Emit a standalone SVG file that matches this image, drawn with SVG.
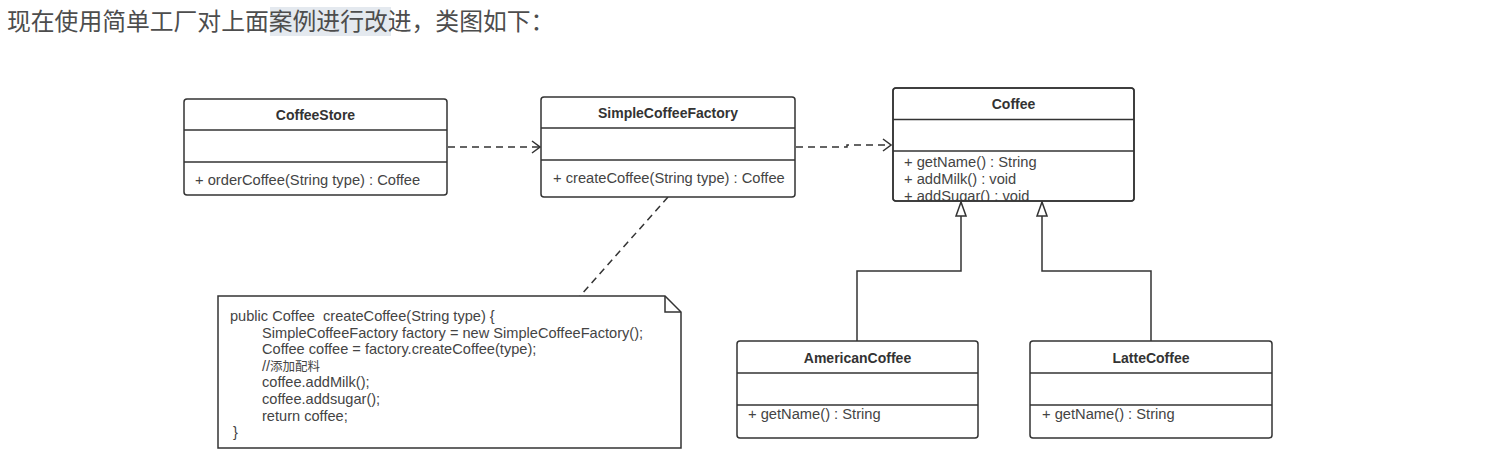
<svg xmlns="http://www.w3.org/2000/svg" width="1498" height="455" viewBox="0 0 1498 455">
<style>
.box{fill:#fff;stroke:#333;stroke-width:1.5}
.div{stroke:#333;stroke-width:1.5;fill:none}
.name{font-family:"Liberation Sans","Noto Sans",sans-serif;font-size:14px;font-weight:bold;fill:#333;text-anchor:middle}
.m{font-family:"Liberation Sans","Noto Sans",sans-serif;font-size:14.7px;fill:#444}
.note{font-family:"Liberation Sans","Noto Sans","Noto Sans CJK SC",sans-serif;font-size:14.6px;fill:#444;white-space:pre}
.cjk{font-family:"Noto Sans CJK SC",sans-serif;font-size:12.5px}
.dash{stroke:#333;stroke-width:1.5;fill:none;stroke-dasharray:7 5}
.solid{stroke:#333;stroke-width:1.5;fill:none}
.title{font-family:"Noto Sans CJK SC","Noto Sans",sans-serif;font-size:23.8px;fill:#4d4d4d}
</style>
<defs>
<marker id="open" viewBox="0 0 10 14" refX="9" refY="7" markerWidth="10" markerHeight="14" markerUnits="userSpaceOnUse" orient="auto">
<path d="M1,1 L9,7 L1,13" fill="none" stroke="#333" stroke-width="1.5"/>
</marker>
<marker id="tri" viewBox="0 0 16 12" refX="15" refY="6" markerWidth="16" markerHeight="12" markerUnits="userSpaceOnUse" orient="auto">
<path d="M1,1 L15,6 L1,11 Z" fill="#fff" stroke="#333" stroke-width="1.5"/>
</marker>
<clipPath id="coffeeClip"><rect x="893" y="152" width="241" height="49"/></clipPath>
</defs>
<rect width="1498" height="455" fill="#fff"/>
<g id="title">
<rect x="270" y="7" width="121" height="29" fill="#e4e9ef"/>
<text class="title" x="7" y="30">现在使用简单工厂对上面案例进行改进，类图如下：</text>
</g>
<g id="connectors">
<line class="dash" x1="448" y1="147" x2="540" y2="147" marker-end="url(#open)"/>
<polyline class="dash" points="796,147 847,147 847,145 891,145" marker-end="url(#open)"/>
<line class="dash" x1="668" y1="197" x2="580" y2="296"/>
<polyline class="solid" points="857,341 857,271 961,271 961,202" marker-end="url(#tri)"/>
<polyline class="solid" points="1151,341 1151,271 1042,271 1042,202" marker-end="url(#tri)"/>
</g>
<g id="CoffeeStore">
<rect class="box" x="184" y="99" width="263" height="96" rx="3"/>
<line class="div" x1="184" y1="130" x2="447" y2="130"/>
<line class="div" x1="184" y1="162" x2="447" y2="162"/>
<text class="name" x="315.5" y="120">CoffeeStore</text>
<text class="m" x="195" y="185">+ orderCoffee(String type) : Coffee</text>
</g>
<g id="SimpleCoffeeFactory">
<rect class="box" x="541" y="97" width="254" height="100" rx="3"/>
<line class="div" x1="541" y1="128" x2="795" y2="128"/>
<line class="div" x1="541" y1="160" x2="795" y2="160"/>
<text class="name" x="668" y="118">SimpleCoffeeFactory</text>
<text class="m" x="553" y="183">+ createCoffee(String type) : Coffee</text>
</g>
<g id="Coffee">
<rect class="box" x="893" y="88" width="241" height="113" rx="3"/>
<line class="div" x1="893" y1="119.5" x2="1134" y2="119.5"/>
<line class="div" x1="893" y1="151" x2="1134" y2="151"/>
<text class="name" x="1013.5" y="109">Coffee</text>
<g clip-path="url(#coffeeClip)">
<text class="m" x="904" y="167">+ getName() : String</text>
<text class="m" x="904" y="184">+ addMilk() : void</text>
<text class="m" x="904" y="201">+ addSugar() : void</text>
</g>
<rect x="893" y="88" width="241" height="113" rx="3" fill="none" stroke="#333" stroke-width="1.5"/>
</g>
<g id="AmericanCoffee">
<rect class="box" x="737" y="341" width="241" height="97" rx="3"/>
<line class="div" x1="737" y1="373" x2="978" y2="373"/>
<line class="div" x1="737" y1="405" x2="978" y2="405"/>
<text class="name" x="857.5" y="363">AmericanCoffee</text>
<text class="m" x="748" y="419">+ getName() : String</text>
</g>
<g id="LatteCoffee">
<rect class="box" x="1030" y="341" width="242" height="97" rx="3"/>
<line class="div" x1="1030" y1="373" x2="1272" y2="373"/>
<line class="div" x1="1030" y1="405" x2="1272" y2="405"/>
<text class="name" x="1151" y="363">LatteCoffee</text>
<text class="m" x="1042" y="419">+ getName() : String</text>
</g>
<g id="note">
<path class="box" d="M218,296 L665,296 L681,312 L681,448 L218,448 Z"/>
<path class="solid" d="M665,296 L665,312 L681,312"/>
<text class="note" x="230" y="321">public Coffee  createCoffee(String type) {</text>
<text class="note" x="262" y="337.6">SimpleCoffeeFactory factory = new SimpleCoffeeFactory();</text>
<text class="note" x="262" y="354.2">Coffee coffee = factory.createCoffee(type);</text>
<text class="note" x="262" y="370.8">//<tspan class="cjk">添加配料</tspan></text>
<text class="note" x="262" y="387.4">coffee.addMilk();</text>
<text class="note" x="262" y="404">coffee.addsugar();</text>
<text class="note" x="262" y="420.6">return coffee;</text>
<text class="note" x="233" y="437.2">}</text>
</g>
</svg>
